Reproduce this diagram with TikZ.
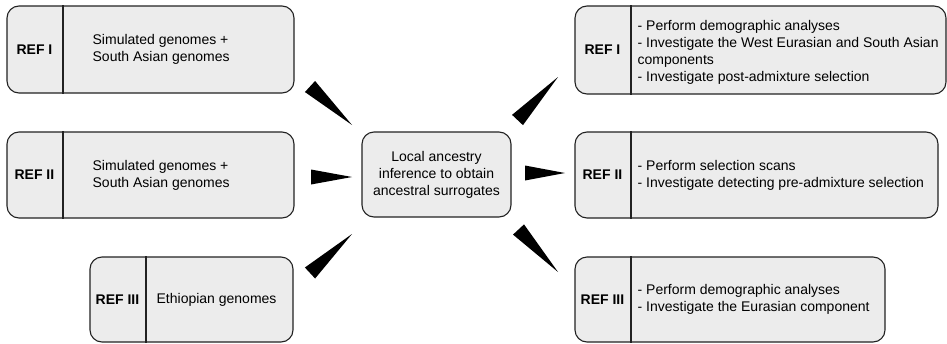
\documentclass[tikz,border=0pt]{standalone}
\usepackage{fontspec}
\setmainfont{Liberation Sans}
\usetikzlibrary{positioning, calc}

\definecolor{boxfill}{RGB}{236,236,236}
\definecolor{boxline}{RGB}{34,34,34}

\tikzset{
  panel/.style={draw=boxline, fill=boxfill, line width=1.1pt, rounded corners=12pt, inner sep=0pt},
  tag/.style={font=\fontsize{14}{17}\selectfont\bfseries, inner sep=0pt},
  info/.style={align=left, anchor=west, inner sep=0pt},
  spike/.style={fill=black}
}
\newcommand{\pointer}[2]{\fill[spike] ($(#1)!7.5pt!90:(#2)$) -- ($(#1)!7.5pt!-90:(#2)$) -- (#2) -- cycle;}

\begin{document}
\begin{tikzpicture}[x=1pt, y=-1pt, font=\fontsize{14}{17}\selectfont]
\useasboundingbox (0,0) rectangle (947,343);

% input data
\node[panel, minimum width=287pt, minimum height=87pt] (src1) at (150.5,49.5) {};
\node[panel, minimum width=287pt, minimum height=86pt] (src2) at (150.5,175) {};
\node[panel, minimum width=203pt, minimum height=85pt] (src3) at (191.5,299.5) {};

% local ancestry step
\node[panel, minimum width=149pt, minimum height=85pt, align=center] (hub) at (436.5,174.5)
    {Local ancestry\\inference to obtain\\ancestral surrogates};

% analyses
\node[panel, minimum width=371pt, minimum height=88pt] (dst1) at (760.5,50) {};
\node[panel, minimum width=363pt, minimum height=86pt] (dst2) at (756.5,175) {};
\node[panel, minimum width=310pt, minimum height=85pt] (dst3) at (730,299.5) {};

\foreach \b in {src1,src2,src3,dst1,dst2,dst3}
    \draw[boxline, line width=1.1pt] ([xshift=56.5pt]\b.north west) -- ([xshift=56.5pt]\b.south west);

\node[tag] (tag1) at ([xshift=28pt]src1.west) {REF I};
\node[tag] (tag2) at ([xshift=28pt]src2.west) {REF II};
\node[tag] (tag3) at ([xshift=28pt]src3.west) {REF III};
\node[tag] (tag4) at ([xshift=28pt]dst1.west) {REF I};
\node[tag] (tag5) at ([xshift=28pt]dst2.west) {REF II};
\node[tag] (tag6) at ([xshift=28pt]dst3.west) {REF III};

\node[info] (txt1) at ([xshift=86pt]src1.west) {Simulated genomes +\\South Asian genomes};
\node[info] (txt2) at ([xshift=86pt]src2.west) {Simulated genomes +\\South Asian genomes};
\node[info] (txt3) at ([xshift=67pt]src3.west) {Ethiopian genomes};
\node[info] (txt4) at ([xshift=63pt, yshift=-2.5pt]dst1.west) {- Perform demographic analyses\\- Investigate the West Eurasian and South Asian\\components\\- Investigate post-admixture selection};
\node[info] (txt5) at ([xshift=63pt]dst2.west) {- Perform selection scans\\- Investigate detecting pre-admixture selection};
\node[info] (txt6) at ([xshift=63pt]dst3.west) {- Perform demographic analyses\\- Investigate the Eurasian component};

% wedge arrows
\coordinate (a1) at (310,86.5);  \coordinate (b1) at (352,125);
\coordinate (a2) at (311,177);   \coordinate (b2) at (352,177);
\coordinate (a3) at (310,273);   \coordinate (b3) at (352,234);
\coordinate (a4) at (517.5,120); \coordinate (b4) at (558,77);
\coordinate (a5) at (525,173);   \coordinate (b5) at (565,173);
\coordinate (a6) at (518.5,229.5); \coordinate (b6) at (558,272);
\foreach \s/\t in {a1/b1,a2/b2,a3/b3,a4/b4,a5/b5,a6/b6}
    {\pointer{\s}{\t}}
\end{tikzpicture}
\end{document}
